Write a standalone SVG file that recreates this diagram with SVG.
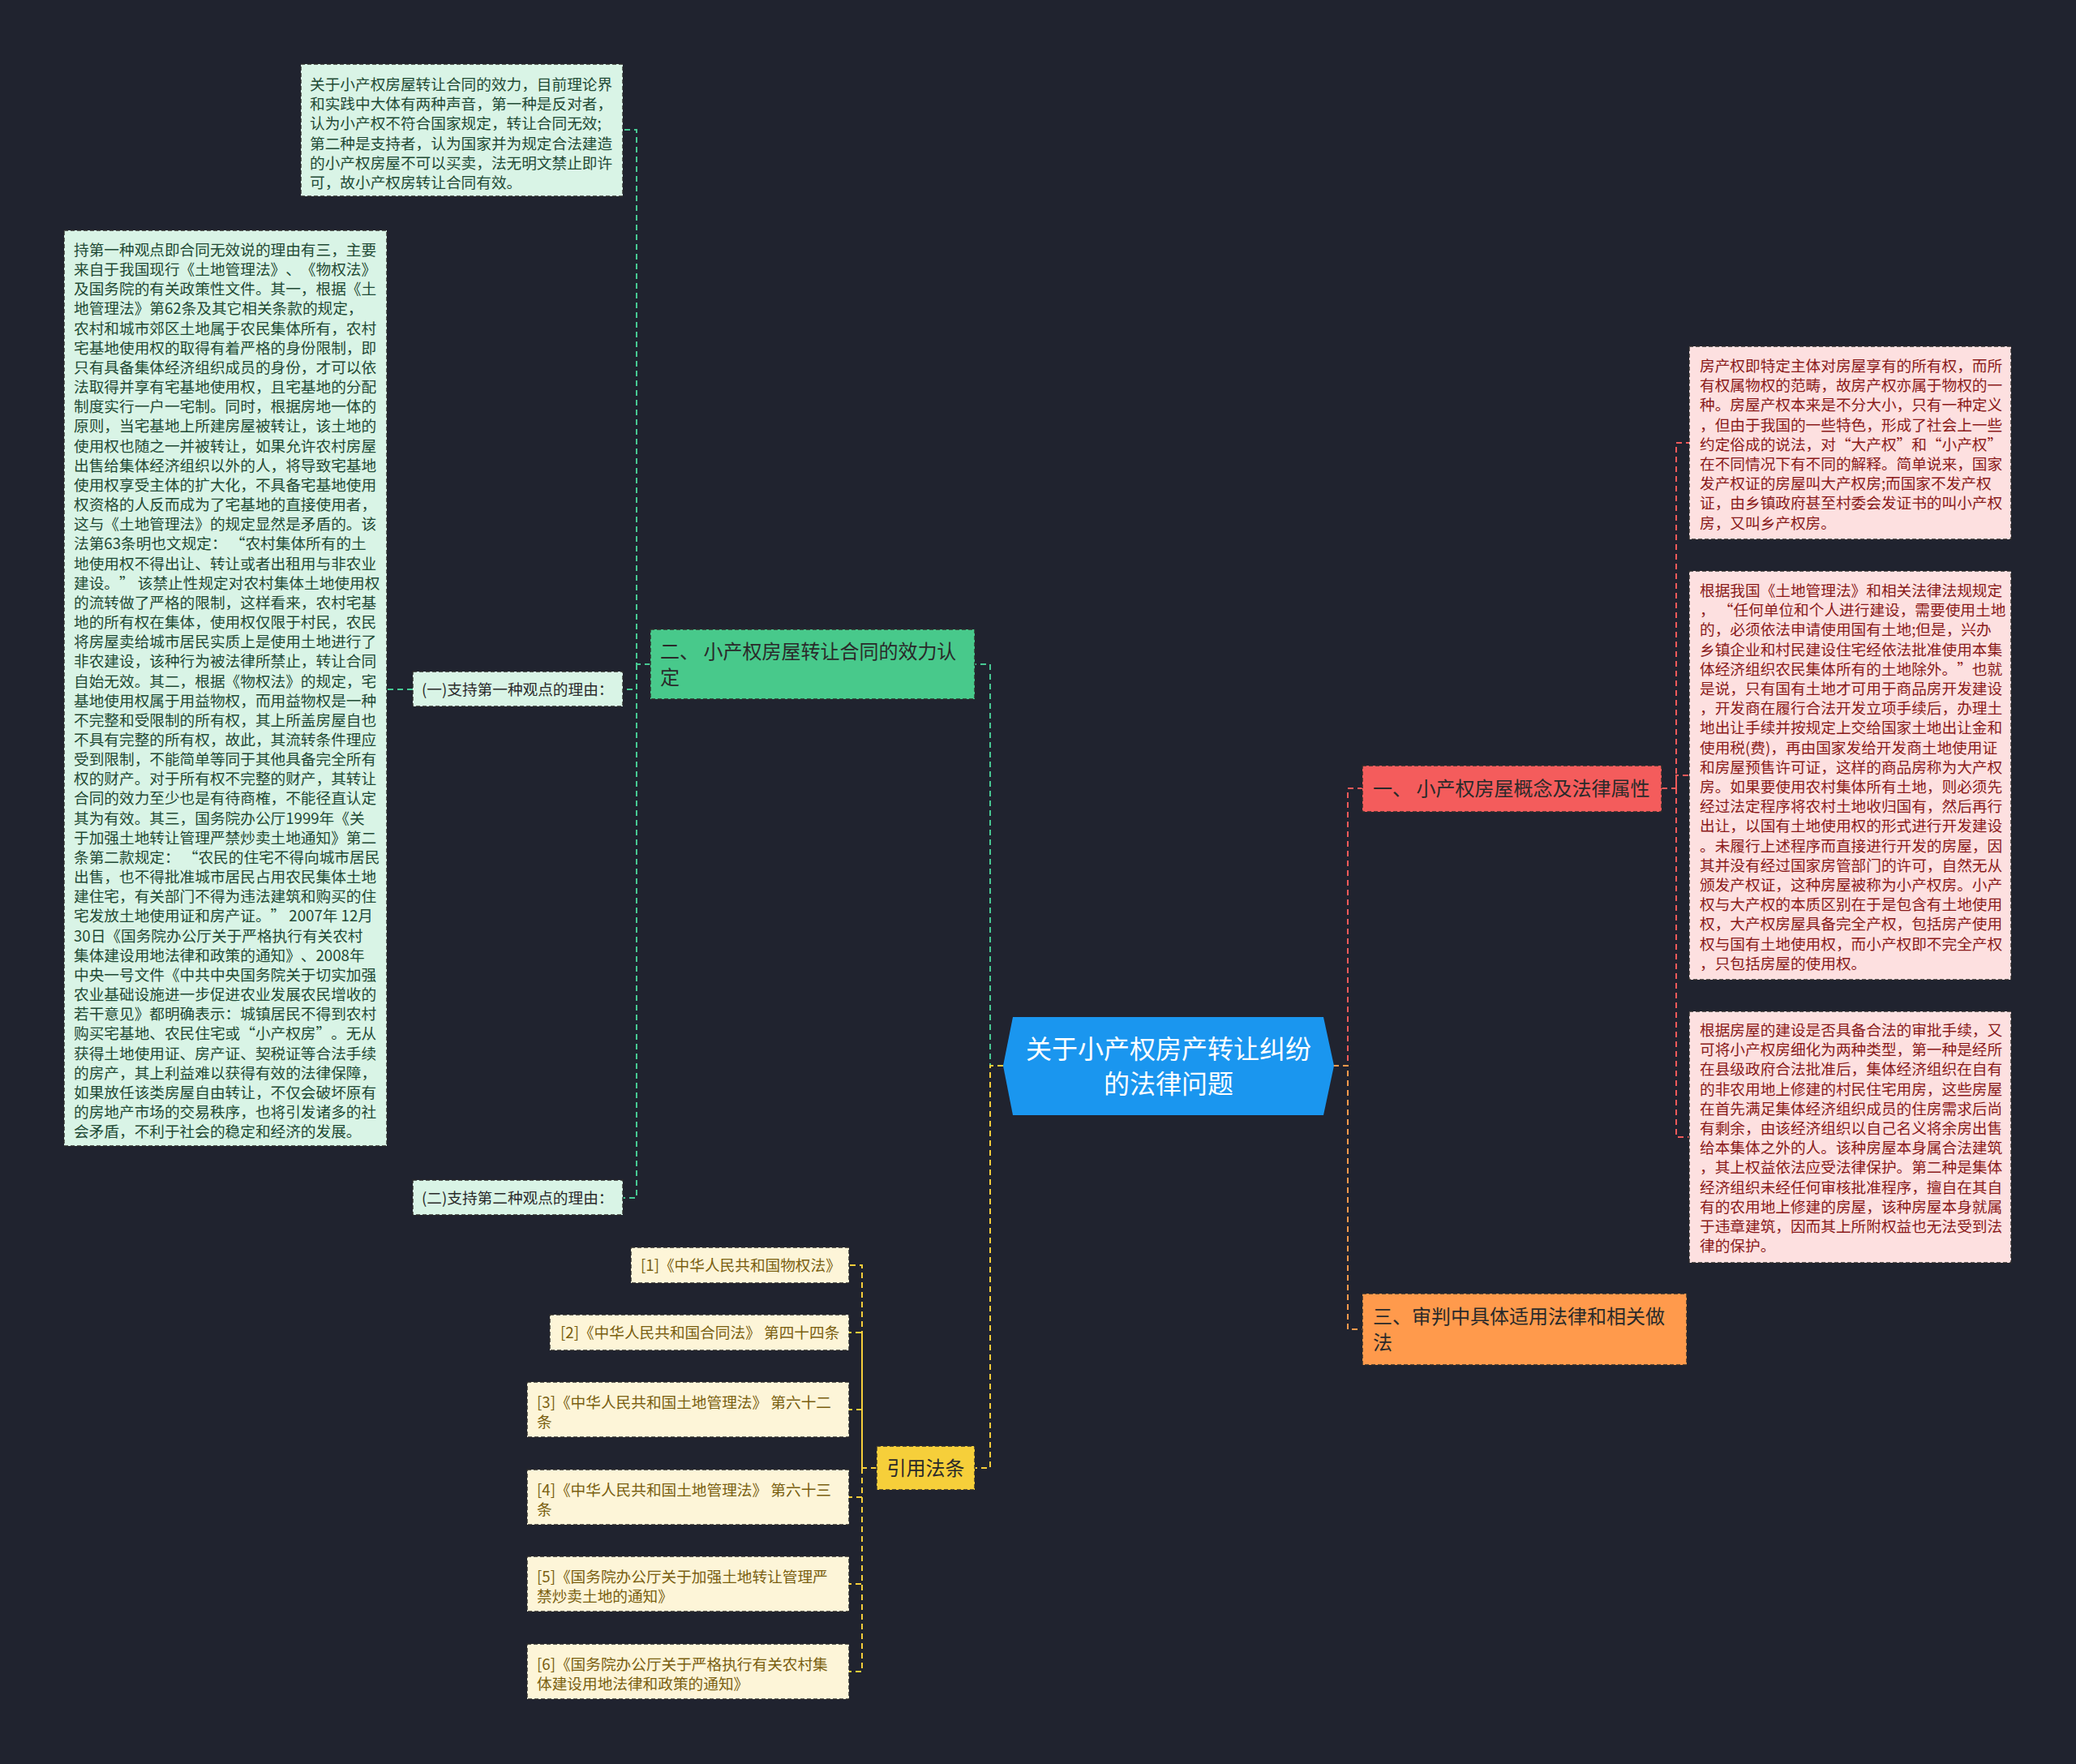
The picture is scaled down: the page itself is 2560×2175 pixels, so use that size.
<svg xmlns="http://www.w3.org/2000/svg" width="2560" height="2175" viewBox="0 0 2560 2175">
<style>
text { font-family: "Noto Sans CJK SC", "Noto Sans", sans-serif; text-spacing-trim: space-all; font-kerning: none; }
.s { font-size: 18.67px; }
.m { font-size: 24px; }
.gt { fill: #1f4a35; }
.pt { fill: #8a1a1a; }
.ct { fill: #7a5f10; }
.dk { fill: #2a2a2a; }
.box { stroke: #2b2b2b; stroke-width: 1.4; stroke-dasharray: 5 3; }
.lg { fill: #d9f4e6; }
.pk { fill: #fde0e0; }
.cr { fill: #fdf5d8; }
.con { fill: none; stroke-width: 2; stroke-dasharray: 7 5; }
.teal { stroke: #47c993; }
.red { stroke: #f05a5a; }
.org { stroke: #ff9a4c; }
.yel { stroke: #f5cd3a; }
</style>
<rect width="2560" height="2175" fill="#20232f"/>

<g id="connectors">
  <path class="con teal" d="M1237 1314 H1221 V819 H1202"/>
  <path class="con yel" d="M1237 1314 H1221 V1810 H1202"/>
  <path class="con red" d="M1644 1314 H1662 V972 H1680"/>
  <path class="con org" d="M1644 1314 H1662 V1639 H1680"/>
  <path class="con teal" d="M802 819 H785 V160 H768"/>
  <path class="con teal" d="M785 819 V850 H768"/>
  <path class="con teal" d="M785 819 V1477 H768"/>
  <path class="con teal" d="M509 850 H477"/>
  <path class="con red" d="M2049 972 H2067 V546 H2083"/>
  <path class="con red" d="M2067 972 V956 H2083"/>
  <path class="con red" d="M2067 972 V1402 H2083"/>
  <path class="con yel" d="M1081 1810 H1063 V1560 H1047"/>
  <path class="con yel" d="M1063 1810 V1643 H1047"/>
  <path class="con yel" d="M1063 1810 V1738 H1047"/>
  <path class="con yel" d="M1063 1810 V1846 H1047"/>
  <path class="con yel" d="M1063 1810 V1953 H1047"/>
  <path class="con yel" d="M1063 1810 V2061 H1047"/>
</g>

<g id="center">
  <polygon points="1237,1314 1249,1254 1632,1254 1645,1314 1632,1375 1249,1375" fill="#1a96ef"/>
  <text x="1441" y="1305" font-size="32" fill="#ffffff" text-anchor="middle">关于小产权房产转让纠纷</text>
  <text x="1441" y="1348" font-size="32" fill="#ffffff" text-anchor="middle">的法律问题</text>
</g>

<g id="node-1">
  <rect class="box" x="1680" y="944" width="369" height="57" fill="#f45c5c"/>
  <text class="m dk" x="1693" y="981">一、 小产权房屋概念及法律属性</text>
</g>

<g id="node-3">
  <rect class="box" x="1680" y="1595" width="400" height="88" fill="#ff9a4c"/>
  <text class="m dk"><tspan x="1693" y="1632">三、审判中具体适用法律和相关做</tspan><tspan x="1693" y="1664">法</tspan></text>
</g>

<g id="node-2">
  <rect class="box" x="802" y="776" width="400" height="86" fill="#48c98b"/>
  <text class="m dk"><tspan x="814" y="812">二、 小产权房屋转让合同的效力认</tspan><tspan x="814" y="844">定</tspan></text>
</g>

<g id="node-cite">
  <rect class="box" x="1081" y="1783" width="121" height="54" fill="#f6cf3a"/>
  <text class="m dk" x="1141.5" y="1819" text-anchor="middle">引用法条</text>
</g>

<g id="p1">
  <rect class="box pk" x="2083" y="427" width="397" height="238"/>
  <text class="s pt">
    <tspan x="2096" y="458">房产权即特定主体对房屋享有的所有权，而所</tspan>
    <tspan x="2096" y="482.2">有权属物权的范畴，故房产权亦属于物权的一</tspan>
    <tspan x="2096" y="506.4">种。房屋产权本来是不分大小，只有一种定义</tspan>
    <tspan x="2096" y="530.6">，但由于我国的一些特色，形成了社会上一些</tspan>
    <tspan x="2096" y="554.8">约定俗成的说法，对“大产权”和“小产权”</tspan>
    <tspan x="2096" y="579">在不同情况下有不同的解释。简单说来，国家</tspan>
    <tspan x="2096" y="603.2">发产权证的房屋叫大产权房;而国家不发产权</tspan>
    <tspan x="2096" y="627.4">证，由乡镇政府甚至村委会发证书的叫小产权</tspan>
    <tspan x="2096" y="651.6">房，又叫乡产权房。</tspan>
  </text>
</g>

<g id="p2">
  <rect class="box pk" x="2083" y="704" width="397" height="504"/>
  <text class="s pt">
    <tspan x="2096" y="735">根据我国《土地管理法》和相关法律法规规定</tspan>
    <tspan x="2096" y="759.2">， “任何单位和个人进行建设，需要使用土地</tspan>
    <tspan x="2096" y="783.4">的，必须依法申请使用国有土地;但是，兴办</tspan>
    <tspan x="2096" y="807.6">乡镇企业和村民建设住宅经依法批准使用本集</tspan>
    <tspan x="2096" y="831.8">体经济组织农民集体所有的土地除外。”也就</tspan>
    <tspan x="2096" y="856">是说，只有国有土地才可用于商品房开发建设</tspan>
    <tspan x="2096" y="880.2">，开发商在履行合法开发立项手续后，办理土</tspan>
    <tspan x="2096" y="904.4">地出让手续并按规定上交给国家土地出让金和</tspan>
    <tspan x="2096" y="928.6">使用税(费)，再由国家发给开发商土地使用证</tspan>
    <tspan x="2096" y="952.8">和房屋预售许可证，这样的商品房称为大产权</tspan>
    <tspan x="2096" y="977">房。如果要使用农村集体所有土地，则必须先</tspan>
    <tspan x="2096" y="1001.2">经过法定程序将农村土地收归国有，然后再行</tspan>
    <tspan x="2096" y="1025.4">出让，以国有土地使用权的形式进行开发建设</tspan>
    <tspan x="2096" y="1049.6">。未履行上述程序而直接进行开发的房屋，因</tspan>
    <tspan x="2096" y="1073.8">其并没有经过国家房管部门的许可，自然无从</tspan>
    <tspan x="2096" y="1098">颁发产权证，这种房屋被称为小产权房。小产</tspan>
    <tspan x="2096" y="1122.2">权与大产权的本质区别在于是包含有土地使用</tspan>
    <tspan x="2096" y="1146.4">权，大产权房屋具备完全产权，包括房产使用</tspan>
    <tspan x="2096" y="1170.6">权与国有土地使用权，而小产权即不完全产权</tspan>
    <tspan x="2096" y="1194.8">，只包括房屋的使用权。</tspan>
  </text>
</g>

<g id="p3">
  <rect class="box pk" x="2083" y="1247" width="397" height="310"/>
  <text class="s pt">
    <tspan x="2096" y="1277">根据房屋的建设是否具备合法的审批手续，又</tspan>
    <tspan x="2096" y="1301.2">可将小产权房细化为两种类型，第一种是经所</tspan>
    <tspan x="2096" y="1325.4">在县级政府合法批准后，集体经济组织在自有</tspan>
    <tspan x="2096" y="1349.6">的非农用地上修建的村民住宅用房，这些房屋</tspan>
    <tspan x="2096" y="1373.8">在首先满足集体经济组织成员的住房需求后尚</tspan>
    <tspan x="2096" y="1398">有剩余，由该经济组织以自己名义将余房出售</tspan>
    <tspan x="2096" y="1422.2">给本集体之外的人。该种房屋本身属合法建筑</tspan>
    <tspan x="2096" y="1446.4">，其上权益依法应受法律保护。第二种是集体</tspan>
    <tspan x="2096" y="1470.6">经济组织未经任何审核批准程序，擅自在其自</tspan>
    <tspan x="2096" y="1494.8">有的农用地上修建的房屋，该种房屋本身就属</tspan>
    <tspan x="2096" y="1519">于违章建筑，因而其上所附权益也无法受到法</tspan>
    <tspan x="2096" y="1543.2">律的保护。</tspan>
  </text>
</g>

<g id="g-top">
  <rect class="box lg" x="371" y="79" width="397" height="163"/>
  <text class="s gt">
    <tspan x="382" y="111">关于小产权房屋转让合同的效力，目前理论界</tspan>
    <tspan x="382" y="135.2">和实践中大体有两种声音，第一种是反对者，</tspan>
    <tspan x="382" y="159.4">认为小产权不符合国家规定，转让合同无效;</tspan>
    <tspan x="382" y="183.6">第二种是支持者，认为国家并为规定合法建造</tspan>
    <tspan x="382" y="207.8">的小产权房屋不可以买卖，法无明文禁止即许</tspan>
    <tspan x="382" y="232">可，故小产权房转让合同有效。</tspan>
  </text>
</g>

<g id="g-reason1">
  <rect class="box lg" x="509" y="828" width="259" height="43"/>
  <text class="s dk" x="520" y="857">(一)支持第一种观点的理由：</text>
</g>

<g id="g-reason2">
  <rect class="box lg" x="509" y="1455" width="259" height="43"/>
  <text class="s dk" x="520" y="1484">(二)支持第二种观点的理由：</text>
</g>

<g id="g-big">
  <rect class="box lg" x="79" y="284" width="398" height="1129"/>
  <text class="s gt">
    <tspan x="91" y="315">持第一种观点即合同无效说的理由有三，主要</tspan>
    <tspan x="91" y="339.16">来自于我国现行《土地管理法》、《物权法》</tspan>
    <tspan x="91" y="363.32">及国务院的有关政策性文件。其一，根据《土</tspan>
    <tspan x="91" y="387.48">地管理法》第62条及其它相关条款的规定，</tspan>
    <tspan x="91" y="411.64">农村和城市郊区土地属于农民集体所有，农村</tspan>
    <tspan x="91" y="435.8">宅基地使用权的取得有着严格的身份限制，即</tspan>
    <tspan x="91" y="459.96">只有具备集体经济组织成员的身份，才可以依</tspan>
    <tspan x="91" y="484.12">法取得并享有宅基地使用权，且宅基地的分配</tspan>
    <tspan x="91" y="508.28">制度实行一户一宅制。同时，根据房地一体的</tspan>
    <tspan x="91" y="532.44">原则，当宅基地上所建房屋被转让，该土地的</tspan>
    <tspan x="91" y="556.6">使用权也随之一并被转让，如果允许农村房屋</tspan>
    <tspan x="91" y="580.76">出售给集体经济组织以外的人，将导致宅基地</tspan>
    <tspan x="91" y="604.92">使用权享受主体的扩大化，不具备宅基地使用</tspan>
    <tspan x="91" y="629.08">权资格的人反而成为了宅基地的直接使用者，</tspan>
    <tspan x="91" y="653.24">这与《土地管理法》的规定显然是矛盾的。该</tspan>
    <tspan x="91" y="677.4">法第63条明也文规定： “农村集体所有的土</tspan>
    <tspan x="91" y="701.56">地使用权不得出让、转让或者出租用与非农业</tspan>
    <tspan x="91" y="725.72">建设。” 该禁止性规定对农村集体土地使用权</tspan>
    <tspan x="91" y="749.88">的流转做了严格的限制，这样看来，农村宅基</tspan>
    <tspan x="91" y="774.04">地的所有权在集体，使用权仅限于村民，农民</tspan>
    <tspan x="91" y="798.2">将房屋卖给城市居民实质上是使用土地进行了</tspan>
    <tspan x="91" y="822.36">非农建设，该种行为被法律所禁止，转让合同</tspan>
    <tspan x="91" y="846.52">自始无效。其二，根据《物权法》的规定，宅</tspan>
    <tspan x="91" y="870.68">基地使用权属于用益物权，而用益物权是一种</tspan>
    <tspan x="91" y="894.84">不完整和受限制的所有权，其上所盖房屋自也</tspan>
    <tspan x="91" y="919">不具有完整的所有权，故此，其流转条件理应</tspan>
    <tspan x="91" y="943.16">受到限制，不能简单等同于其他具备完全所有</tspan>
    <tspan x="91" y="967.32">权的财产。对于所有权不完整的财产，其转让</tspan>
    <tspan x="91" y="991.48">合同的效力至少也是有待商榷，不能径直认定</tspan>
    <tspan x="91" y="1015.64">其为有效。其三，国务院办公厅1999年《关</tspan>
    <tspan x="91" y="1039.8">于加强土地转让管理严禁炒卖土地通知》第二</tspan>
    <tspan x="91" y="1063.96">条第二款规定： “农民的住宅不得向城市居民</tspan>
    <tspan x="91" y="1088.12">出售，也不得批准城市居民占用农民集体土地</tspan>
    <tspan x="91" y="1112.28">建住宅，有关部门不得为违法建筑和购买的住</tspan>
    <tspan x="91" y="1136.44">宅发放土地使用证和房产证。” 2007年 12月</tspan>
    <tspan x="91" y="1160.6">30日《国务院办公厅关于严格执行有关农村</tspan>
    <tspan x="91" y="1184.76">集体建设用地法律和政策的通知》、2008年</tspan>
    <tspan x="91" y="1208.92">中央一号文件《中共中央国务院关于切实加强</tspan>
    <tspan x="91" y="1233.08">农业基础设施进一步促进农业发展农民增收的</tspan>
    <tspan x="91" y="1257.24">若干意见》都明确表示：城镇居民不得到农村</tspan>
    <tspan x="91" y="1281.4">购买宅基地、农民住宅或“小产权房”。无从</tspan>
    <tspan x="91" y="1305.56">获得土地使用证、房产证、契税证等合法手续</tspan>
    <tspan x="91" y="1329.72">的房产，其上利益难以获得有效的法律保障，</tspan>
    <tspan x="91" y="1353.88">如果放任该类房屋自由转让，不仅会破坏原有</tspan>
    <tspan x="91" y="1378.04">的房地产市场的交易秩序，也将引发诸多的社</tspan>
    <tspan x="91" y="1402.2">会矛盾，不利于社会的稳定和经济的发展。</tspan>
  </text>
</g>

<g id="c1">
  <rect class="box cr" x="778" y="1538" width="269" height="44"/>
  <text class="s ct" x="790" y="1567">[1]《中华人民共和国物权法》</text>
</g>
<g id="c2">
  <rect class="box cr" x="678" y="1621" width="369" height="44"/>
  <text class="s ct" x="691" y="1650">[2]《中华人民共和国合同法》 第四十四条</text>
</g>
<g id="c3">
  <rect class="box cr" x="650" y="1704" width="397" height="68"/>
  <text class="s ct"><tspan x="662" y="1736">[3]《中华人民共和国土地管理法》 第六十二</tspan><tspan x="662" y="1760">条</tspan></text>
</g>
<g id="c4">
  <rect class="box cr" x="650" y="1812" width="397" height="68"/>
  <text class="s ct"><tspan x="662" y="1844">[4]《中华人民共和国土地管理法》 第六十三</tspan><tspan x="662" y="1868">条</tspan></text>
</g>
<g id="c5">
  <rect class="box cr" x="650" y="1919" width="397" height="68"/>
  <text class="s ct"><tspan x="662" y="1951">[5]《国务院办公厅关于加强土地转让管理严</tspan><tspan x="662" y="1975">禁炒卖土地的通知》</tspan></text>
</g>
<g id="c6">
  <rect class="box cr" x="650" y="2027" width="397" height="68"/>
  <text class="s ct"><tspan x="662" y="2059">[6]《国务院办公厅关于严格执行有关农村集</tspan><tspan x="662" y="2083">体建设用地法律和政策的通知》</tspan></text>
</g>
</svg>
